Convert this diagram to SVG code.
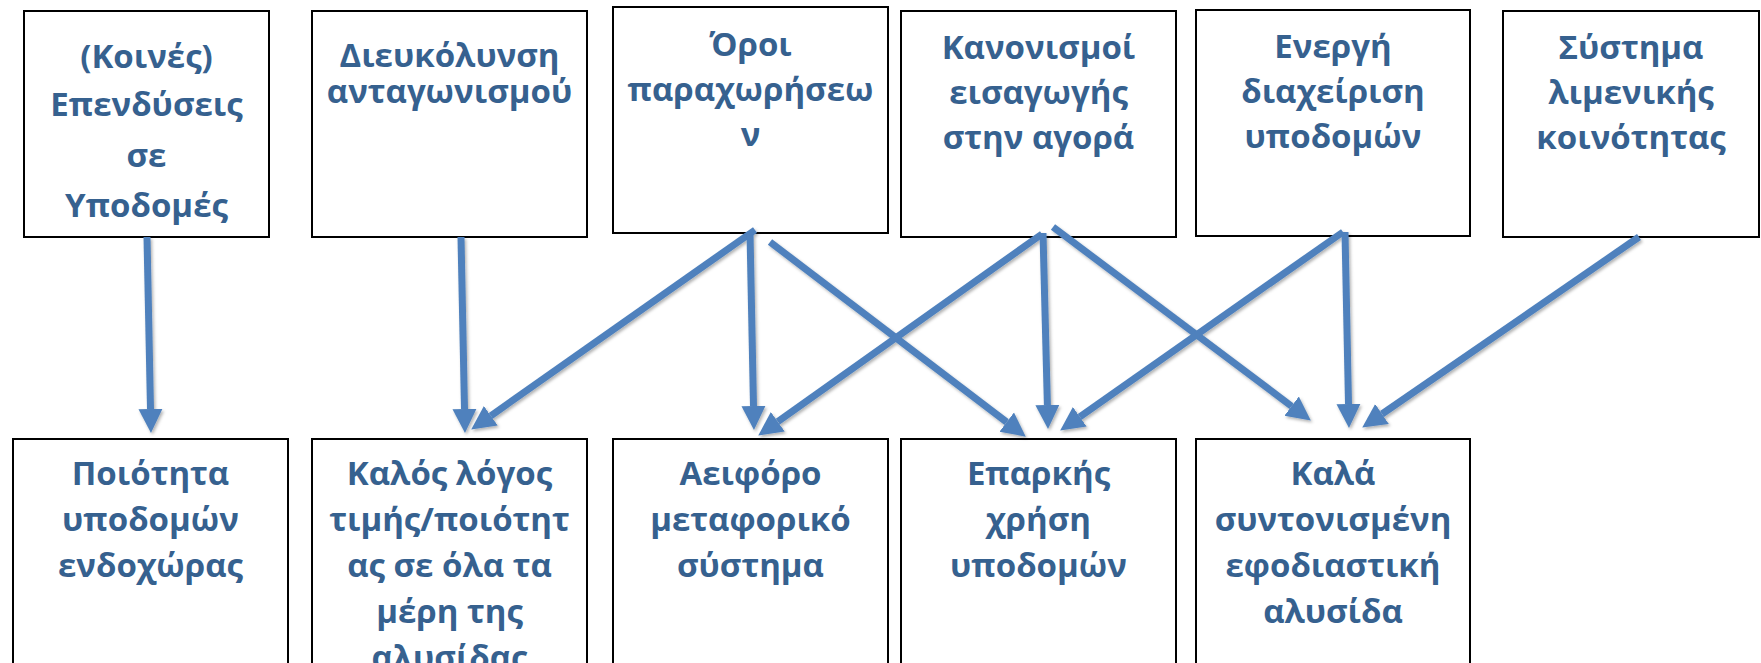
<svg xmlns="http://www.w3.org/2000/svg" width="1761" height="663" viewBox="0 0 1761 663">
<style>
.box{fill:#ffffff;stroke:#000000;stroke-width:2}
.t{font-family:"Open Sans","Noto Sans","DejaVu Sans",sans-serif;font-weight:bold;font-size:33px;fill:#36618F;text-anchor:middle}
.c{stroke:#4F81BD;stroke-width:7;fill:none;marker-end:url(#ah)}
</style>
<defs>
<marker id="ah" markerUnits="userSpaceOnUse" markerWidth="24" markerHeight="26" viewBox="0 -12 23 24" refX="0" refY="0" orient="auto">
<path d="M0,-11.5 L23,0 L0,11.5 Z" fill="#4F81BD"/>
</marker>
<filter id="sh" x="-10%" y="-10%" width="130%" height="130%">
<feDropShadow dx="1.5" dy="2" stdDeviation="1.5" flood-color="#000" flood-opacity="0.3"/>
</filter>
</defs>
<rect width="1761" height="663" fill="#ffffff"/>

<g id="n-top1"><rect class="box" x="24" y="11" width="245" height="226"/>
<text class="t" x="146.5" y="68">(Κοινές)</text><text class="t" x="146.5" y="116">Επενδύσεις</text><text class="t" x="146.5" y="167">σε</text><text class="t" x="146.5" y="217">Υποδομές</text></g>
<g id="n-top2"><rect class="box" x="312" y="11" width="275" height="226"/>
<text class="t" x="449.5" y="67">Διευκόλυνση</text><text class="t" x="449.5" y="103">ανταγωνισμού</text></g>
<g id="n-top3"><rect class="box" x="613" y="7" width="275" height="226"/>
<text class="t" x="750.5" y="56">Όροι</text><text class="t" x="750.5" y="101">παραχωρήσεω</text><text class="t" x="750.5" y="146">ν</text></g>
<g id="n-top4"><rect class="box" x="901" y="11" width="275" height="226"/>
<text class="t" x="1038.5" y="59">Κανονισμοί</text><text class="t" x="1038.5" y="104">εισαγωγής</text><text class="t" x="1038.5" y="149">στην αγορά</text></g>
<g id="n-top5"><rect class="box" x="1196" y="10" width="274" height="226"/>
<text class="t" x="1333" y="58">Ενεργή</text><text class="t" x="1333" y="103">διαχείριση</text><text class="t" x="1333" y="148">υποδομών</text></g>
<g id="n-top6"><rect class="box" x="1503" y="11" width="256" height="226"/>
<text class="t" x="1631" y="59">Σύστημα</text><text class="t" x="1631" y="104">λιμενικής</text><text class="t" x="1631" y="149">κοινότητας</text></g>

<g id="n-bot1"><rect class="box" x="13" y="439" width="275" height="260"/>
<text class="t" x="150.5" y="485">Ποιότητα</text><text class="t" x="150.5" y="531">υποδομών</text><text class="t" x="150.5" y="577">ενδοχώρας</text></g>
<g id="n-bot2"><rect class="box" x="312" y="439" width="275" height="260"/>
<text class="t" x="449.5" y="485">Καλός λόγος</text><text class="t" x="449.5" y="531">τιμής/ποιότητ</text><text class="t" x="449.5" y="577">ας σε όλα τα</text><text class="t" x="449.5" y="623">μέρη της</text><text class="t" x="449.5" y="669">αλυσίδας</text></g>
<g id="n-bot3"><rect class="box" x="613" y="439" width="275" height="260"/>
<text class="t" x="750.5" y="485">Αειφόρο</text><text class="t" x="750.5" y="531">μεταφορικό</text><text class="t" x="750.5" y="577">σύστημα</text></g>
<g id="n-bot4"><rect class="box" x="901" y="439" width="275" height="260"/>
<text class="t" x="1038.5" y="485">Επαρκής</text><text class="t" x="1038.5" y="531">χρήση</text><text class="t" x="1038.5" y="577">υποδομών</text></g>
<g id="n-bot5"><rect class="box" x="1196" y="439" width="274" height="260"/>
<text class="t" x="1333" y="485">Καλά</text><text class="t" x="1333" y="531">συντονισμένη</text><text class="t" x="1333" y="577">εφοδιαστική</text><text class="t" x="1333" y="623">αλυσίδα</text></g>

<g id="connectors" filter="url(#sh)">
<line class="c" x1="147" y1="237" x2="150.5" y2="409"/>
<line class="c" x1="461" y1="237" x2="464.5" y2="409"/>
<line class="c" x1="755" y1="230" x2="490.8" y2="415.8"/>
<line class="c" x1="750" y1="232" x2="753.5" y2="406"/>
<line class="c" x1="770" y1="242" x2="1006.7" y2="422.1"/>
<line class="c" x1="1042" y1="234" x2="777.8" y2="421.7"/>
<line class="c" x1="1043" y1="233" x2="1047.4" y2="405"/>
<line class="c" x1="1053" y1="227" x2="1291.6" y2="406.2"/>
<line class="c" x1="1343" y1="232" x2="1079.8" y2="416.8"/>
<line class="c" x1="1345" y1="232" x2="1348.5" y2="404"/>
<line class="c" x1="1639" y1="237" x2="1382" y2="414"/>
</g>
</svg>
